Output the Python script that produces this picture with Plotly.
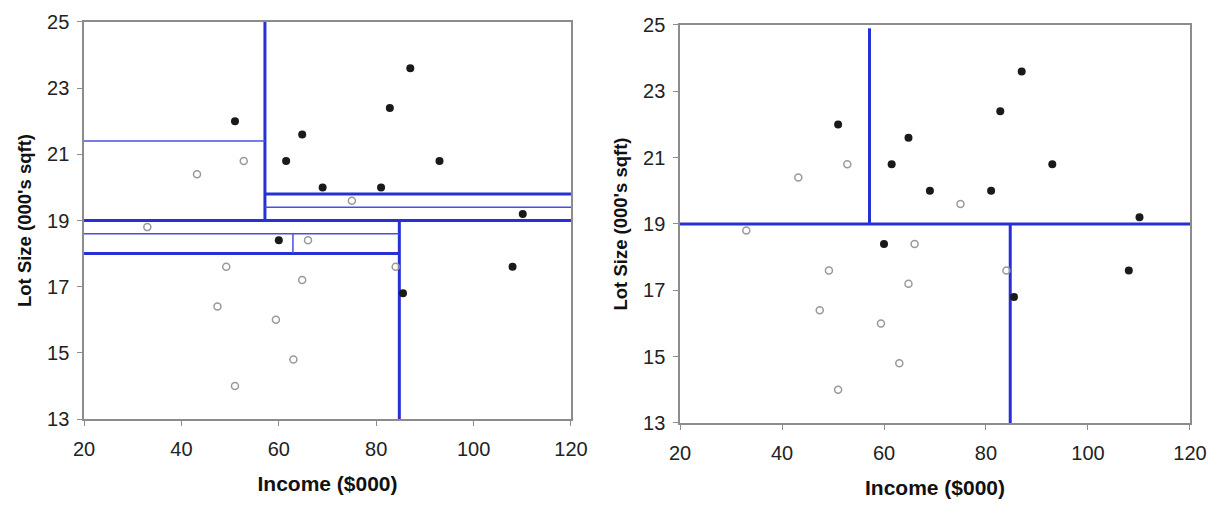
import plotly.graph_objects as go
from plotly.subplots import make_subplots

# riding mowers data
owner_income = [60.0, 85.5, 64.8, 61.5, 87.0, 110.1, 108.0, 82.8, 69.0, 93.0, 51.0, 81.0]
owner_lot = [18.4, 16.8, 21.6, 20.8, 23.6, 19.2, 17.6, 22.4, 20.0, 20.8, 22.0, 20.0]
non_income = [75.0, 52.8, 64.8, 43.2, 84.0, 49.2, 59.4, 66.0, 47.4, 33.0, 51.0, 63.0]
non_lot = [19.6, 20.8, 17.2, 20.4, 17.6, 17.6, 16.0, 18.4, 16.4, 18.8, 14.0, 14.8]

# full tree splits: (variable, value, from, to, thick)
full_splits = [
    ('lot', 19.0, 20, 120, True),
    ('income', 84.75, 13, 19.0, True),
    ('income', 57.15, 19.0, 25, True),
    ('lot', 18.0, 20, 84.75, True),
    ('lot', 19.8, 57.15, 120, True),
    ('lot', 21.4, 20, 57.15, False),
    ('lot', 19.4, 57.15, 120, False),
    ('lot', 18.6, 20, 84.75, False),
    ('income', 62.9, 18.0, 18.6, False),
]
# pruned tree splits
pruned_splits = [
    ('lot', 19.0, 20, 120, True),
    ('income', 57.15, 19.0, 24.9, True),
    ('income', 84.75, 13, 19.0, True),
]

BLUE = '#2630d4'
THIN_BLUE = '#4650dc'
FONT = 'Liberation Sans, Arial, sans-serif'

fig = make_subplots(rows=1, cols=2)


def add_panel(splits, col):
    for var, val, a, b, thick in splits:
        if var == 'lot':
            xs, ys = [a, b], [val, val]
        else:
            xs, ys = [val, val], [a, b]
        fig.add_trace(go.Scatter(x=xs, y=ys, mode='lines', showlegend=False,
                                 line=dict(color=BLUE if thick else THIN_BLUE,
                                           width=3 if thick else 1.5)),
                      row=1, col=col)
    fig.add_trace(go.Scatter(x=non_income, y=non_lot, mode='markers', name='Nonowner',
                             showlegend=False,
                             marker=dict(symbol='circle-open', size=7, color='#999999',
                                         line=dict(width=1.5))),
                  row=1, col=col)
    fig.add_trace(go.Scatter(x=owner_income, y=owner_lot, mode='markers', name='Owner',
                             showlegend=False,
                             marker=dict(size=8, color='#1a1a1a')),
                  row=1, col=col)


add_panel(full_splits, 1)
add_panel(pruned_splits, 2)

axis_common = dict(showgrid=False, zeroline=False, showline=True, linecolor='#8c8c8c',
                   linewidth=1.5, mirror=True, ticks='outside', ticklen=5,
                   tickcolor='#8c8c8c', automargin=False,
                   tickfont=dict(family=FONT, size=20, color='#222'))

fig.update_xaxes(range=[20, 120], tick0=20, dtick=20, ticklabelstandoff=6, **axis_common)
fig.update_yaxes(range=[13, 25], tick0=13, dtick=2, ticklabelstandoff=4, **axis_common)
fig.update_xaxes(title=dict(text='<b>Income ($000)</b>', standoff=18,
                            font=dict(family=FONT, size=21, color='#111')))
fig.update_yaxes(title=dict(text="<b>Lot Size (000's sqft)</b>", standoff=11,
                            font=dict(family=FONT, size=18.5, color='#111')))

# page body adds an 8px margin, so the figure is 16px smaller than the window
fig.update_layout(
    width=1205, height=507,
    margin=dict(l=0, r=0, t=0, b=0),
    plot_bgcolor='white', paper_bgcolor='white',
    xaxis=dict(domain=[0.0631, 0.4672]),
    yaxis=dict(domain=[0.1893, 0.9724]),
    xaxis2=dict(domain=[0.5577, 0.9809]),
    yaxis2=dict(domain=[0.1815, 0.9665]),
)

fig.write_html("out.html")
